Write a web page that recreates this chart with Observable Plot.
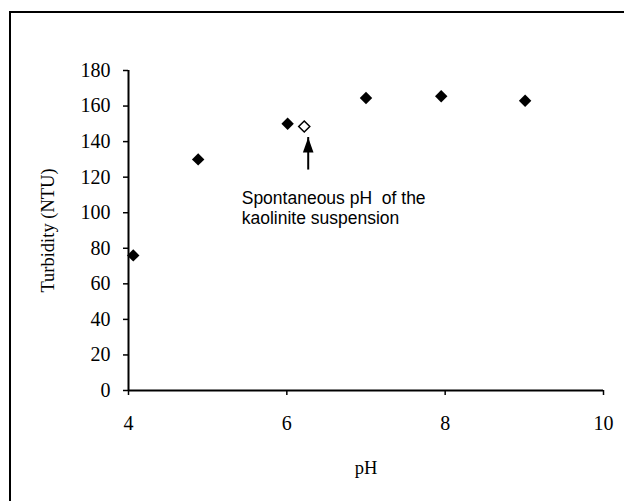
<!DOCTYPE html>
<html>
<head>
<meta charset="utf-8">
<script src="https://cdn.jsdelivr.net/npm/d3@7"></script>
<script src="https://cdn.jsdelivr.net/npm/@observablehq/plot@0.6"></script>
<style>
  html, body { margin: 0; padding: 0; background: #fff; overflow: hidden; }
  #wrap { position: relative; width: 624px; height: 501px; }
  #border {
    position: absolute; left: 9px; top: 11px; width: 640px; height: 520px;
    border-left: 2px solid #000; border-top: 2px solid #000; pointer-events: none;
  }
  #wrap svg g[aria-label$="tick label"] {
    font-family: 'Liberation Serif', 'Times New Roman', serif;
    font-size: 20px;
  }
  #wrap svg g[aria-label$="axis label"] {
    font-family: 'Liberation Serif', 'Times New Roman', serif;
    font-size: 18.5px;
  }
</style>
</head>
<body>
<div id="wrap"><div id="border"></div></div>
<script>
// Turbidity of kaolinite suspensions at different pH
const pH = [4.06, 4.88, 6.01, 7.0, 7.95, 9.01];
const turbidity = [76, 130, 150, 164.5, 165.5, 163];

// spontaneous (unadjusted) pH of the suspension
const spontaneousPH = [6.22];
const spontaneousTurbidity = [148.5];

// annotation
const noteText = ["Spontaneous pH  of the\nkaolinite suspension"];
const notePH = [5.43];
const noteTurbidity = [103];
const arrowPH = [6.27];
const arrowFrom = [124];
const arrowTo = [142.3];

const xTicks = [4, 6, 8, 10];
const yTicks = [0, 20, 40, 60, 80, 100, 120, 140, 160, 180];

const points = pH.map((x, i) => ({x, y: turbidity[i]}));
const spont = spontaneousPH.map((x, i) => ({x, y: spontaneousTurbidity[i]}));
const note = noteText.map((t, i) => ({t, x: notePH[i], y: noteTurbidity[i]}));
const arrow = arrowPH.map((x, i) => ({x, y1: arrowFrom[i], y2: arrowTo[i]}));

// filled arrowhead, tip at the anchor point, pointing up
const arrowHead = {
  draw(context) {
    context.moveTo(0, 0);
    context.lineTo(5.3, 15);
    context.lineTo(-5.3, 15);
    context.closePath();
  }
};

const serif = "'Liberation Serif', 'Times New Roman', serif";

const chart = Plot.plot({
  width: 624,
  height: 501,
  marginLeft: 128,
  marginRight: 21,
  marginTop: 70,
  marginBottom: 111,
  style: {fontFamily: serif, fontSize: "20px", color: "#000", background: "transparent"},
  x: {domain: [4, 10]},
  y: {domain: [0, 180]},
  marks: [
    Plot.axisX({ticks: xTicks, tickFormat: d3.format("d"), tickSize: 5, tickPadding: 20, strokeWidth: 1.5,
      fontSize: 20, fontFamily: serif,
      label: "pH", labelAnchor: "center", labelArrow: "none", labelOffset: 83}),
    Plot.axisY({ticks: yTicks, tickFormat: d3.format("d"), tickSize: 5, tickPadding: 13, strokeWidth: 1.5,
      fontSize: 20, fontFamily: serif,
      label: "Turbidity (NTU)", labelAnchor: "center", labelArrow: "none", labelOffset: 88}),
    Plot.ruleX([4], {y1: 0, y2: 180, stroke: "#000", strokeWidth: 2}),
    Plot.ruleY([0], {x1: 4, x2: 10, stroke: "#000", strokeWidth: 2}),
    Plot.dot(points, {x: "x", y: "y", symbol: "diamond2", r: 5.6, fill: "#000", stroke: "none"}),
    Plot.dot(spont, {x: "x", y: "y", symbol: "diamond2", r: 5, fill: "#fff", stroke: "#000", strokeWidth: 1.5}),
    Plot.ruleX(arrow, {x: "x", y1: "y1", y2: "y2", stroke: "#000", strokeWidth: 2}),
    Plot.dot(arrow, {x: "x", y: "y2", symbol: arrowHead, fill: "#000", stroke: "none"}),
    Plot.text(note, {x: "x", y: "y", text: "t", textAnchor: "start", lineAnchor: "middle",
      lineHeight: 1.15, fontFamily: "'Liberation Sans', Arial, sans-serif", fontSize: 17.5, fill: "#000"})
  ]
});

document.getElementById("wrap").insertBefore(chart, document.getElementById("border"));
</script>
</body>
</html>
